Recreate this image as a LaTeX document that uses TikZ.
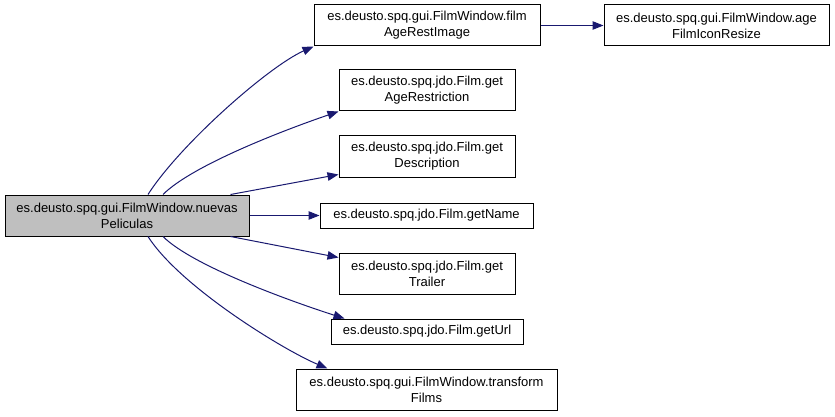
\documentclass[tikz,border=0pt]{standalone}
\usepackage{fontspec}
\setmainfont{Liberation Sans}
\usetikzlibrary{arrows.meta}
\definecolor{edgeblue}{HTML}{191970}
\definecolor{mainfill}{HTML}{BFBFBF}
\begin{document}
\begin{tikzpicture}[x=1pt,y=1pt,
  box/.style={draw=black, line width=1pt, fill=white, inner sep=0pt, align=center,
    font=\fontsize{13}{16}\selectfont},
  mainbox/.style={box, fill=mainfill},
  edge/.style={draw=edgeblue, line width=1pt, -{Triangle[length=11pt,width=8.5pt]}}]
\useasboundingbox (0,0) rectangle (835,-417);
\fill[white] (0,0) rectangle (835,-417);
\node[mainbox, minimum width=244pt, minimum height=41pt] (main) at (127,-215.5) {es.deusto.spq.gui.FilmWindow.nuevas\\Peliculas};
\node[box, minimum width=226pt, minimum height=41pt] (fare) at (427,-25.5) {es.deusto.spq.gui.FilmWindow.film\\AgeRestImage};
\node[box, minimum width=225pt, minimum height=41pt] (afir) at (716.5,-25.5) {es.deusto.spq.gui.FilmWindow.age\\FilmIconResize};
\node[box, minimum width=176pt, minimum height=41pt] (gar) at (427,-90.5) {es.deusto.spq.jdo.Film.get\\AgeRestriction};
\node[box, minimum width=176pt, minimum height=41pt] (gd) at (427,-156.5) {es.deusto.spq.jdo.Film.get\\Description};
\node[box, minimum width=213pt, minimum height=25pt] (gn) at (426.5,-215.5) {es.deusto.spq.jdo.Film.getName};
\node[box, minimum width=176pt, minimum height=41pt] (gt) at (427,-273.5) {es.deusto.spq.jdo.Film.get\\Trailer};
\node[box, minimum width=192pt, minimum height=25pt] (gu) at (427,-331.5) {es.deusto.spq.jdo.Film.getUrl};
\node[box, minimum width=261pt, minimum height=41pt] (tf) at (426.5,-389.5) {es.deusto.spq.gui.FilmWindow.transform\\Films};

\draw[edge] ([xshift=21pt]main.north) .. controls +(32,50) and +(-45,-20) .. (fare.south west);
\draw[edge] ([xshift=36pt]main.north) .. controls +(30,30) and +(-50,-17) .. (gar.south west);
\draw[edge] ([xshift=-19pt]main.north east) -- ([yshift=3pt]gd.south west);
\draw[edge] (main.east) -- (gn.west);
\draw[edge] ([xshift=-19pt]main.south east) -- ([yshift=-5pt]gt.north west);
\draw[edge] ([xshift=36pt]main.south) .. controls +(30,-30) and +(-50,16) .. ([xshift=14pt]gu.north west);
\draw[edge] ([xshift=21pt]main.south) .. controls +(32,-50) and +(-45,19) .. ([xshift=32pt]tf.north west);
\draw[edge] (fare.east) -- (afir.west);
\end{tikzpicture}
\end{document}
